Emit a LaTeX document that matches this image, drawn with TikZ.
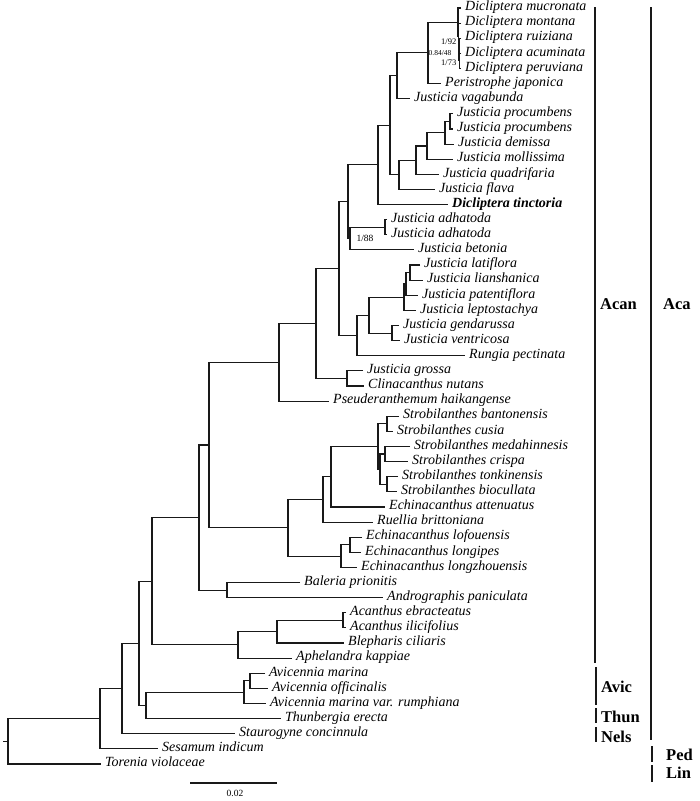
\documentclass[tikz,border=0pt]{standalone}
\usepackage{fontspec}
\setmainfont{Liberation Serif}
\usetikzlibrary{calc}
\newcommand\clade[4]{%
  \path (#3) -- (#4) coordinate[pos=.5] (#1m);
  \coordinate (#1) at (#2,0 |- #1m);
  \draw[br] (#3) -| (#1) |- (#4);}
\begin{document}
\begin{tikzpicture}[x=1pt,y=-1pt,
 br/.style={line width=1.1pt, black!90, line join=miter},
 sp/.style={anchor=west, inner xsep=4pt, inner ysep=0pt, text height=8.5pt, text depth=3pt, font=\fontsize{14}{15}\selectfont\itshape},
 spb/.style={sp, font=\fontsize{14}{15}\selectfont\itshape\bfseries},
 bs/.style={inner sep=0.5pt, font=\fontsize{8.5}{10}\selectfont},
 grp/.style={anchor=west, inner sep=0pt, font=\fontsize{16.5}{18}\selectfont\bfseries},
 bar/.style={line width=1.6pt, black!90}]
\useasboundingbox (0,0) rectangle (700,801);
% leaves
\foreach \i/\tx/\nm in {
 1/461/Dicliptera mucronata, 2/461/Dicliptera montana, 3/461/Dicliptera ruiziana,
 4/461/Dicliptera acuminata, 5/461/Dicliptera peruviana, 6/441/Peristrophe japonica,
 7/410/Justicia vagabunda, 8/453/Justicia procumbens, 9/453/Justicia procumbens,
 10/454/Justicia demissa, 11/453/Justicia mollissima, 12/439/Justicia quadrifaria,
 13/435/Justicia flava, 15/387/Justicia adhatoda, 16/387/Justicia adhatoda,
 17/414/Justicia betonia, 18/420/Justicia latiflora, 19/423/Justicia lianshanica,
 20/418/Justicia patentiflora, 21/416/Justicia leptostachya, 22/399/Justicia gendarussa,
 23/400/Justicia ventricosa, 24/465/Rungia pectinata, 25/363/Justicia grossa,
 26/364/Clinacanthus nutans, 27/329/Pseuderanthemum haikangense,
 28/399/Strobilanthes bantonensis, 29/393/Strobilanthes cusia,
 30/410/Strobilanthes medahinnesis, 31/408/Strobilanthes crispa,
 32/398/Strobilanthes tonkinensis, 33/397/Strobilanthes biocullata,
 34/385/Echinacanthus attenuatus, 35/373/Ruellia brittoniana,
 36/362/Echinacanthus lofouensis, 37/361/Echinacanthus longipes,
 38/357/Echinacanthus longzhouensis, 39/300/Baleria prionitis,
 40/383/Andrographis paniculata, 41/346/Acanthus ebracteatus,
 42/346/Acanthus ilicifolius, 43/344/Blepharis ciliaris, 44/292/Aphelandra kappiae,
 45/265/Avicennia marina, 46/268/Avicennia officinalis,
 47/266/Avicennia marina var. rumphiana, 48/281/Thunbergia erecta,
 49/235/Staurogyne concinnula, 50/158/Sesamum indicum, 51/101/Torenia violaceae}{
 \coordinate (l\i) at (\tx,{8+(\i-1)*15.12});
 \node[sp] (t\i) at (l\i) {\nm};
}
\coordinate (l14) at (448,{8+13*15.12});
\node[spb] (t14) at (l14) {Dicliptera tinctoria};
% clades
\clade{dA}{459.5}{l4}{l5}
\clade{dB}{459}{l3}{dA}
\clade{dC}{458.5}{l2}{dB}
\clade{dD}{458}{l1}{dC}
\clade{Pe}{428}{dD}{l6}
\clade{Va}{397}{Pe}{l7}
\clade{pr}{450}{l8}{l9}
\clade{de}{445}{pr}{l10}
\clade{mo}{427}{de}{l11}
\clade{qu}{416}{mo}{l12}
\clade{fl}{399}{qu}{l13}
\clade{Ja}{390}{Va}{fl}
\clade{Ti}{378}{Ja}{l14}
\clade{Ad}{385}{l15}{l16}
\clade{Be}{350}{Ad}{l17}
\clade{K}{348}{Ti}{Be}
\clade{La}{410}{l18}{l19}
\clade{Lb}{406}{La}{l20}
\clade{Lc}{404}{Lb}{l21}
\clade{Ge}{392}{l22}{l23}
\clade{Lg}{369}{Lc}{Ge}
\clade{Ru}{357}{Lg}{l24}
\clade{M}{339}{K}{Ru}
\clade{Gr}{347}{l25}{l26}
\clade{Nc}{316}{M}{Gr}
\clade{Nb}{279}{Nc}{l27}
\clade{bc}{387}{l28}{l29}
\clade{mc}{385}{l30}{l31}
\clade{tb}{387}{l32}{l33}
\clade{V}{380}{mc}{tb}
\clade{U}{378}{bc}{V}
\clade{T}{331}{U}{l34}
\clade{R}{323}{T}{l35}
\clade{lo}{350}{l36}{l37}
\clade{Ec}{341}{lo}{l38}
\clade{So}{288}{R}{Ec}
\clade{Na}{209}{Nb}{So}
\clade{BA}{227}{l39}{l40}
\clade{Nz}{199}{Na}{BA}
\clade{Ac}{343}{l41}{l42}
\clade{H}{277}{Ac}{l43}
\clade{G}{238}{H}{l44}
\clade{P}{152}{Nz}{G}
\clade{F}{250}{l45}{l46}
\clade{E}{244}{F}{l47}
\clade{D}{146}{E}{l48}
\clade{C}{139}{P}{D}
\clade{B}{122}{C}{l49}
\clade{A}{100}{B}{l50}
\clade{root}{8}{A}{l51}
\coordinate (rs) at (3,0 |- root);
\draw[br] (rs) -- (root);
% support values
\node[bs, anchor=east] (s1) at (457,42) {1/92};
\node[bs, anchor=west, font=\fontsize{7.5}{9}\selectfont] (s2) at (428,53) {0.84/48};
\node[bs, anchor=east] (s3) at (457,63) {1/73};
\node[bs, font=\fontsize{9.5}{11}\selectfont] (s4) at (365,238) {1/88};
% scale bar
\coordinate (sb1) at (190,783);
\coordinate (sb2) at (277,783);
\draw[br] (sb1) -- (sb2);
\node[bs, font=\fontsize{9.5}{11}\selectfont] (sbl) at (235,793) {0.02};
% group bars
\draw[bar] (595,7) -- (595,663);
\node[grp] (gAcan) at (600,304) {Acan};
\draw[bar] (651,7) -- (651,740);
\node[grp] (gAca) at (663,304) {Aca};
\draw[bar] (596,667) -- (596,705);
\node[grp] (gAvic) at (601,687) {Avic};
\draw[bar] (596,708) -- (596,723);
\node[grp] (gThun) at (601,717) {Thun};
\draw[bar] (596,727) -- (596,742);
\node[grp] (gNels) at (601,737) {Nels};
\draw[bar] (652,746) -- (652,762);
\node[grp] (gPed) at (666,755) {Ped};
\draw[bar] (652,765) -- (652,782);
\node[grp] (gLin) at (666,773) {Lin};
\end{tikzpicture}
\end{document}
